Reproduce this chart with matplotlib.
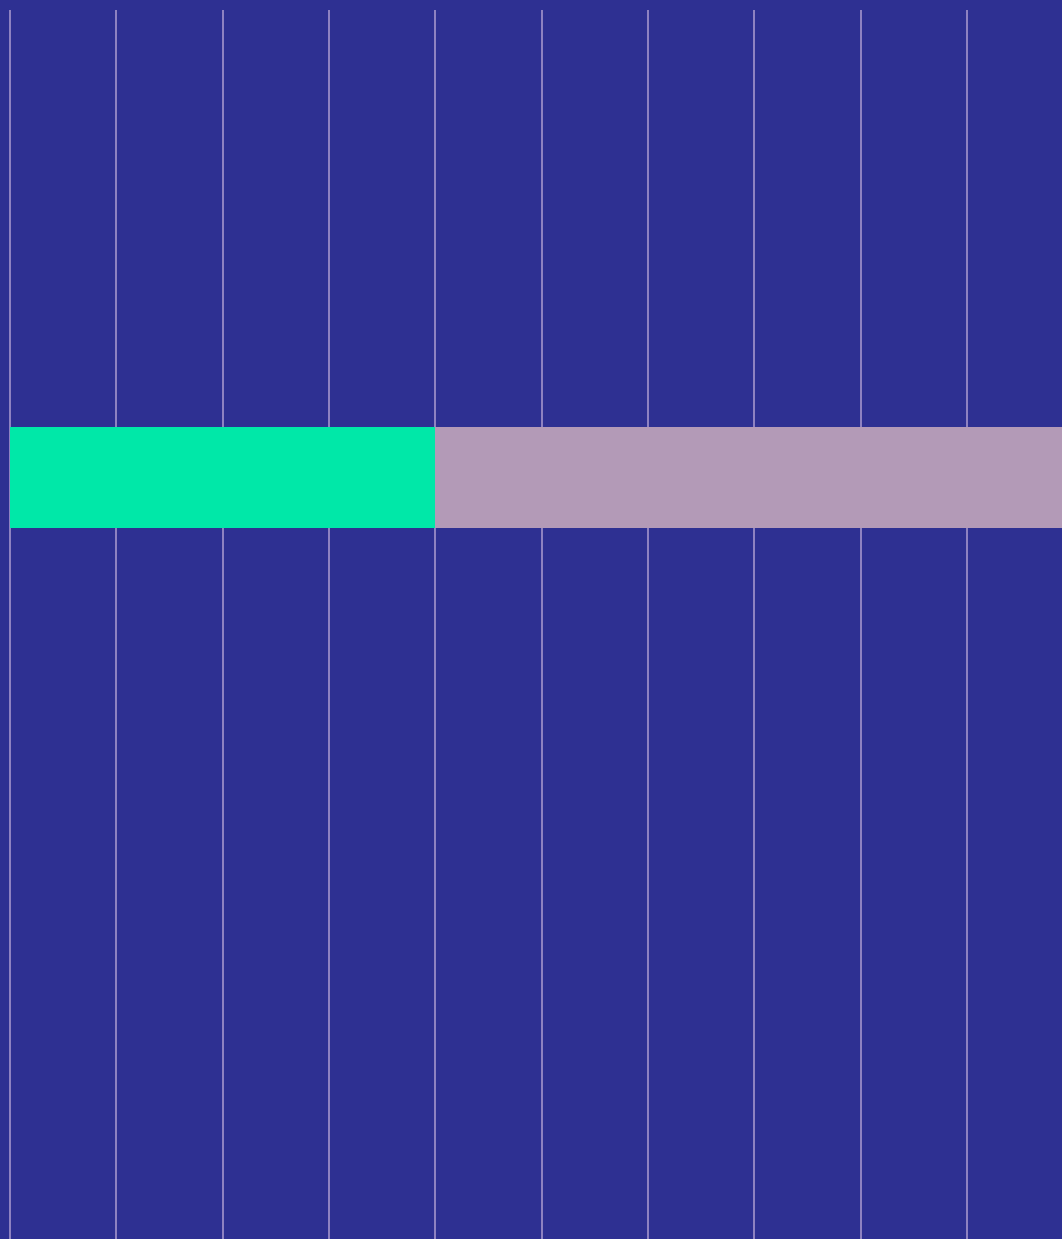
import matplotlib
matplotlib.use("Agg")
import matplotlib.pyplot as plt

categories = ["A"]
segment_labels = ["Part 1", "Part 2"]
segment_values = [40, 60]
segment_colors = ["#00E8A8", "#B39AB7"]
tick_values = [0, 10, 20, 30, 40, 50, 60, 70, 80, 90]

bg = "#2E3092"
fig = plt.figure(figsize=(10.62, 12.39), dpi=100)
fig.patch.set_facecolor(bg)
ax = fig.add_axes([0, 0, 1, (1239 - 10) / 1239])
ax.set_facecolor(bg)

left = 0
for lab, val, col in zip(segment_labels, segment_values, segment_colors):
    ax.barh(categories, [val], left=[left], height=1.0, color=col, label=lab,
            zorder=3, linewidth=0)
    left += val

ax.set_xticks(tick_values)
ax.grid(axis="x", color="#A596CC", linewidth=1.3, alpha=0.9, zorder=0)
ax.grid(axis="y", visible=False)
ax.set_xlim(-9.8 / 10.635, (1062 - 9.8) / 10.635)
ax.set_ylim(4.608 - 12.108, 4.608)
ax.tick_params(left=False, bottom=False, labelleft=False, labelbottom=False)
for s in ax.spines.values():
    s.set_visible(False)

fig.savefig("out.png", dpi=100, facecolor=bg)
